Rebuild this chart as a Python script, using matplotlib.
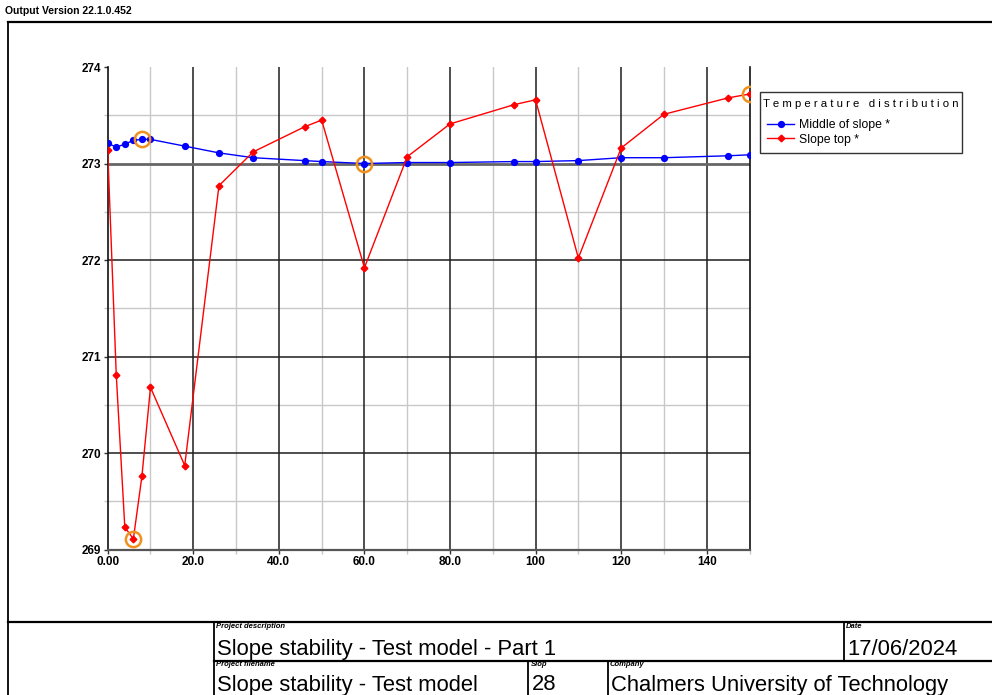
import matplotlib
matplotlib.use("Agg")
import matplotlib.pyplot as plt
from matplotlib.lines import Line2D
import numpy as np

plt.rcParams['font.family'] = ['Liberation Sans', 'DejaVu Sans']

# ---- data ----
distance = [0, 2, 4, 6, 8, 10, 18, 26, 34, 46, 50, 60, 70, 80, 95, 100, 110, 120, 130, 145, 150]
temp_middle = [273.21, 273.17, 273.20, 273.24, 273.25, 273.25, 273.18, 273.11, 273.06, 273.03,
               273.02, 273.00, 273.01, 273.01, 273.02, 273.02, 273.03, 273.06, 273.06, 273.08, 273.09]
temp_top = [273.14, 270.81, 269.23, 269.11, 269.76, 270.68, 269.87, 272.77, 273.12, 273.38,
            273.45, 271.92, 273.07, 273.41, 273.61, 273.66, 272.02, 273.16, 273.51, 273.68, 273.72]
series_names = ["Middle of slope *", "Slope top *"]
legend_title = "Temperature distribution"
x_ticks = [0, 20, 40, 60, 80, 100, 120, 140]
x_tick_labels = ["0.00", "20.0", "40.0", "60.0", "80.0", "100", "120", "140"]
y_ticks = [269, 270, 271, 272, 273, 274]

W, H = 992, 695
fig = plt.figure(figsize=(W / 100, H / 100), dpi=100)

def fx(px):
    return px / W

def fy(py):
    return 1 - py / H

ax = fig.add_axes([fx(107.7), fy(549.5), fx(749.5) - fx(107.7), fy(67) - fy(549.5)])
ax.set_xlim(0, 150)
ax.set_ylim(269, 274)

# grid
major_c = '#1e1e1e'
minor_c = '#c8c8c8'
for xv in np.arange(10, 150, 20):
    ax.axvline(xv, color=minor_c, lw=1.0, zorder=0)
for yv in np.arange(269.5, 274, 1.0):
    ax.axhline(yv, color=minor_c, lw=1.0, zorder=0)
for xv in x_ticks[1:]:
    ax.axvline(xv, color=major_c, lw=1.1, zorder=0.5)
for yv in y_ticks[1:-1]:
    if yv == 273:
        ax.axhline(yv, color='#666666', lw=2.0, zorder=0.5)
    else:
        ax.axhline(yv, color=major_c, lw=1.1, zorder=0.5)

ax.spines['top'].set_visible(False)
ax.spines['left'].set_color('#111111')
ax.spines['left'].set_linewidth(1.2)
ax.spines['right'].set_color('#111111')
ax.spines['right'].set_linewidth(1.2)
ax.spines['bottom'].set_color('#555555')
ax.spines['bottom'].set_linewidth(1.6)

ax.set_xticks(x_ticks)
ax.set_xticklabels(x_tick_labels)
ax.set_xticks(np.arange(10, 151, 20), minor=True)
ax.set_yticks(y_ticks)
ax.set_yticklabels([str(v) for v in y_ticks])
ax.set_yticks(np.arange(269.5, 274, 1.0), minor=True)
ax.tick_params(axis='both', which='major', length=3, width=1, color='#333333',
               labelsize=8.5, pad=2)
ax.tick_params(axis='both', which='minor', length=3, width=1, color=minor_c)
for lab in ax.get_xticklabels() + ax.get_yticklabels():
    lab.set_fontweight('bold')

# series
ax.plot(distance, temp_middle, color='#0000ff', lw=1.0, marker='o', ms=4.2,
        mec='#0000ff', mfc='#0000ff', zorder=3, label=series_names[0])
ax.plot(distance, temp_top, color='#ff0000', lw=1.0, marker='D', ms=3.4,
        mec='#ff0000', mfc='#ff0000', zorder=3, label=series_names[1])

# extreme values marked with rings
orange = '#f0901e'
for ys in (temp_middle, temp_top):
    arr = np.asarray(ys)
    for idx in (int(np.argmax(arr)), int(np.argmin(arr))):
        ax.plot(distance[idx], ys[idx], marker='o', ms=11, mfc='none', mec=orange,
                mew=1.8, zorder=4, ls='none')

# legend
handles, labels = ax.get_legend_handles_labels()
leg = fig.legend(handles, labels, loc='upper left',
                 bbox_to_anchor=(fx(760), fy(153), fx(962) - fx(760), fy(92) - fy(153)),
                 mode='expand', fontsize=8.8, title=" ".join(legend_title),
                 title_fontsize=8.2, frameon=True, fancybox=False, shadow=False,
                 handlelength=2.2, handletextpad=0.4, borderaxespad=0,
                 labelspacing=0.2, borderpad=0.6)
leg.get_frame().set_edgecolor('black')
leg.get_frame().set_linewidth(1.0)
leg._legend_box.align = "center"
leg._legend_box.sep = 7

# page frame and title block
def fline(x0, y0, x1, y1, lw=1.3, color='black'):
    fig.add_artist(Line2D([fx(x0), fx(x1)], [fy(y0), fy(y1)], color=color, lw=lw,
                          transform=fig.transFigure))

fline(8, 22, 992, 22, lw=1.6)
fline(8, 22, 8, 695, lw=1.3)
fline(8, 622, 992, 622, lw=1.6)
fline(213.5, 622, 213.5, 695)
fline(213.5, 660.5, 992, 660.5, lw=1.6)
fline(844, 622, 844, 660.5)
fline(528, 660.5, 528, 695)
fline(607.5, 660.5, 607.5, 695)

fig.text(fx(5), fy(11), "Output Version 22.1.0.452", fontsize=7.5, fontweight='bold',
         va='center', ha='left', family=['Liberation Sans Narrow', 'Liberation Sans'])

small = dict(fontsize=5.5, fontweight='bold', style='italic', va='top', ha='left',
             family=['Liberation Sans Narrow', 'Liberation Sans'])
big = dict(fontsize=15.8, va='baseline', ha='left')

fig.text(fx(216), fy(623.5), "Project description", **small)
fig.text(fx(217), fy(655), "Slope stability - Test model - Part 1", **big)
fig.text(fx(846), fy(623.5), "Date", **small)
fig.text(fx(847), fy(655), "17/06/2024", **big)
fig.text(fx(216), fy(661.5), "Project filename", **small)
fig.text(fx(217), fy(690.5), "Slope stability - Test model", **big)
fig.text(fx(531), fy(661.5), "Slop", **small)
fig.text(fx(532), fy(690.5), "28", **big)
fig.text(fx(610), fy(661.5), "Company", **small)
fig.text(fx(611), fy(690.5), "Chalmers University of Technology", **big)

fig.savefig("out.png", dpi=100)
